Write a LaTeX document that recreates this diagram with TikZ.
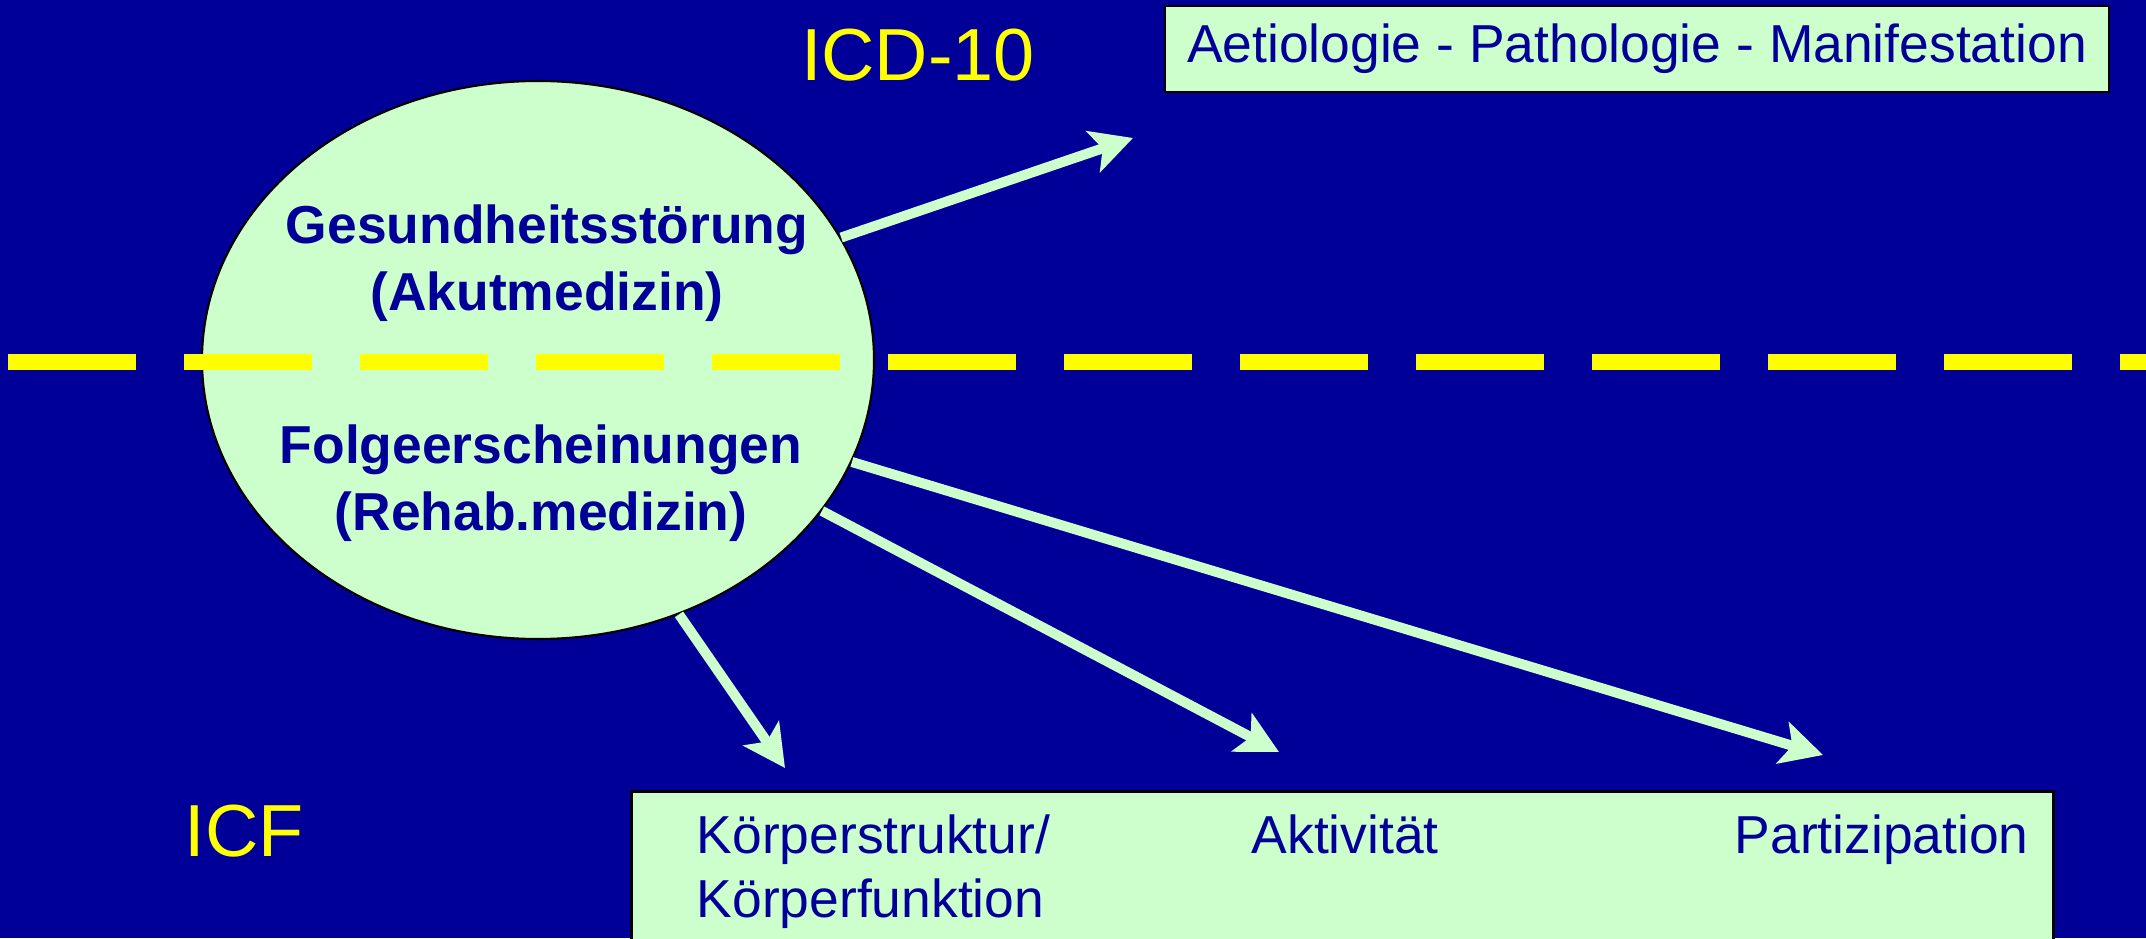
\documentclass[tikz,border=0pt]{standalone}
\usepackage{fontspec}
\setmainfont{Liberation Sans}
\usetikzlibrary{shapes.geometric,arrows.meta}

\definecolor{folie}{RGB}{0,0,153}
\definecolor{hellgruen}{RGB}{204,255,204}
\definecolor{gelb}{RGB}{255,255,0}

\tikzset{
  kasten/.style={draw=black,line width=0.8pt,fill=hellgruen,text=folie},
  text15/.style={font=\fontsize{15.2}{19}\selectfont},
  titel/.style={text=gelb,font=\fontsize{21}{24}\selectfont},
  pfeil/.style={draw=hellgruen,line width=0.1cm,-{Stealth[length=0.42cm,width=0.43cm,inset=0.1cm]}},
  trenn/.style={draw=gelb,line width=0.16cm,dash pattern=on 1.28cm off 0.48cm}
}

\begin{document}
\begin{tikzpicture}
\useasboundingbox (0,0) rectangle (21.46,9.38);
\fill[folie] (0,0) rectangle (21.46,9.38);

\node[shape=ellipse,draw=black,line width=0.6pt,fill=hellgruen,minimum width=6.72cm,minimum height=5.58cm,inner sep=0] (krank) at (5.38,5.78) {};
\draw[trenn] (0.08,5.76) -- (21.46,5.76);

\node[text15,text=folie,align=center] (akut) at (5.47,6.745) {\bfseries Gesundheitsstörung\\\bfseries (Akutmedizin)};
\node[text15,text=folie,align=center] (folge) at (5.41,4.545) {\bfseries Folgeerscheinungen\\\bfseries (Rehab.medizin)};

\node[titel] (icd) at (9.18,8.83) {ICD-10};
\node[titel] (icf) at (2.44,1.07) {ICF};

\node[kasten,text15,minimum width=9.44cm,minimum height=0.86cm] (icdbox) at (16.37,8.89) {Aetiologie - Pathologie - Manifestation};
\node[kasten,minimum width=14.22cm,minimum height=2cm,inner sep=0,anchor=north west] (icfbox) at (6.30,1.48) {};

\node[font=\fontsize{15.2}{18.2}\selectfont,text=folie,align=left,anchor=base west,inner sep=0] (koerper) at (6.96,0.21) {Körperstruktur/\\Körperfunktion};
\node[text15,text=folie,anchor=base west,inner sep=0] (aktiv) at (12.51,0.85) {Aktivität};
\node[text15,text=folie,anchor=base west,inner sep=0] (teilhabe) at (17.34,0.85) {Partizipation};

\coordinate (z1) at (11.33,8.00);
\coordinate (z2) at (7.85,1.70);
\coordinate (z3) at (12.79,1.86);
\coordinate (z4) at (18.23,1.83);

\path (krank.22) edge[pfeil] (z1);
\path (krank.-61.6) edge[pfeil] (z2);
\path (krank.-28.1) edge[pfeil] (z3);
\path (krank.-18.4) edge[pfeil] (z4);
\end{tikzpicture}
\end{document}
